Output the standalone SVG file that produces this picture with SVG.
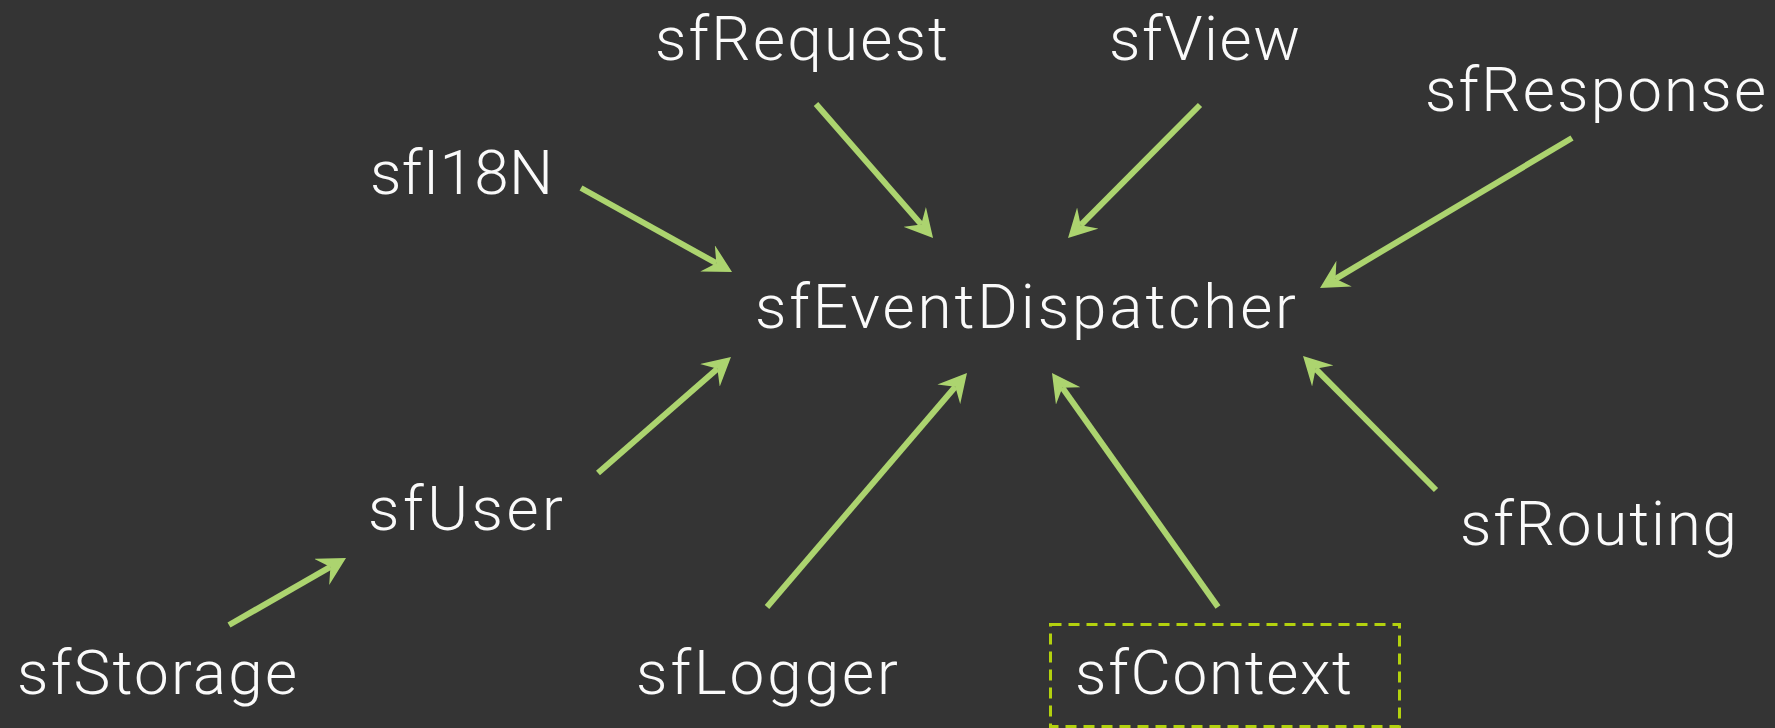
<svg xmlns="http://www.w3.org/2000/svg" width="1775" height="728" viewBox="0 0 1775 728">
<style>
.lbl{font-family:Roboto,"Liberation Sans",sans-serif;font-weight:300;font-size:62px;fill:#fafafa}
.con{stroke:#acd46f;stroke-width:6;fill:none;marker-end:url(#ah)}
.box{fill:none;stroke:#b3d10e;stroke-width:3;stroke-dasharray:11 7}
</style>
<defs>
<marker id="ah" viewBox="0 0 28 30" refX="10" refY="15" markerWidth="28" markerHeight="30" markerUnits="userSpaceOnUse" orient="auto">
<path d="M28,15 L0,0 L10,15 L0,30 Z" fill="#acd46f"/>
</marker>
</defs>
<rect width="1775" height="728" fill="#343434"/>
<g id="connectors">
<line class="con" x1="816" y1="104" x2="921.2" y2="224.4"/>
<line class="con" x1="1200" y1="105" x2="1080.7" y2="225.2"/>
<line class="con" x1="1572" y1="138" x2="1335.5" y2="278.8"/>
<line class="con" x1="581" y1="188" x2="716.3" y2="263.2"/>
<line class="con" x1="598" y1="473" x2="717.4" y2="368.8"/>
<line class="con" x1="229" y1="625" x2="330.4" y2="566.9"/>
<line class="con" x1="767" y1="607" x2="955.3" y2="386.7"/>
<line class="con" x1="1218" y1="607" x2="1062.4" y2="387.7"/>
<line class="con" x1="1436" y1="490" x2="1315.7" y2="368.8"/>
</g>
<g id="sfRequest"><text class="lbl" x="655" y="60" textLength="293" lengthAdjust="spacing">sfRequest</text></g>
<g id="sfView"><text class="lbl" x="1109" y="60" textLength="191" lengthAdjust="spacing">sfView</text></g>
<g id="sfResponse"><text class="lbl" x="1425" y="111" textLength="341" lengthAdjust="spacing">sfResponse</text></g>
<g id="sfI18N"><text class="lbl" x="370" y="194" textLength="183" lengthAdjust="spacing">sfI18N</text></g>
<g id="sfEventDispatcher"><text class="lbl" x="755" y="328" textLength="541" lengthAdjust="spacing">sfEventDispatcher</text></g>
<g id="sfUser"><text class="lbl" x="368" y="530" textLength="195" lengthAdjust="spacing">sfUser</text></g>
<g id="sfRouting"><text class="lbl" x="1460" y="545" textLength="277" lengthAdjust="spacing">sfRouting</text></g>
<g id="sfStorage"><text class="lbl" x="17" y="694" textLength="280" lengthAdjust="spacing">sfStorage</text></g>
<g id="sfLogger"><text class="lbl" x="636" y="694" textLength="262" lengthAdjust="spacing">sfLogger</text></g>
<g id="sfContext"><rect class="box" x="1050.5" y="624.5" width="349" height="102"/><text class="lbl" x="1075" y="694" textLength="277" lengthAdjust="spacing">sfContext</text></g>
</svg>
